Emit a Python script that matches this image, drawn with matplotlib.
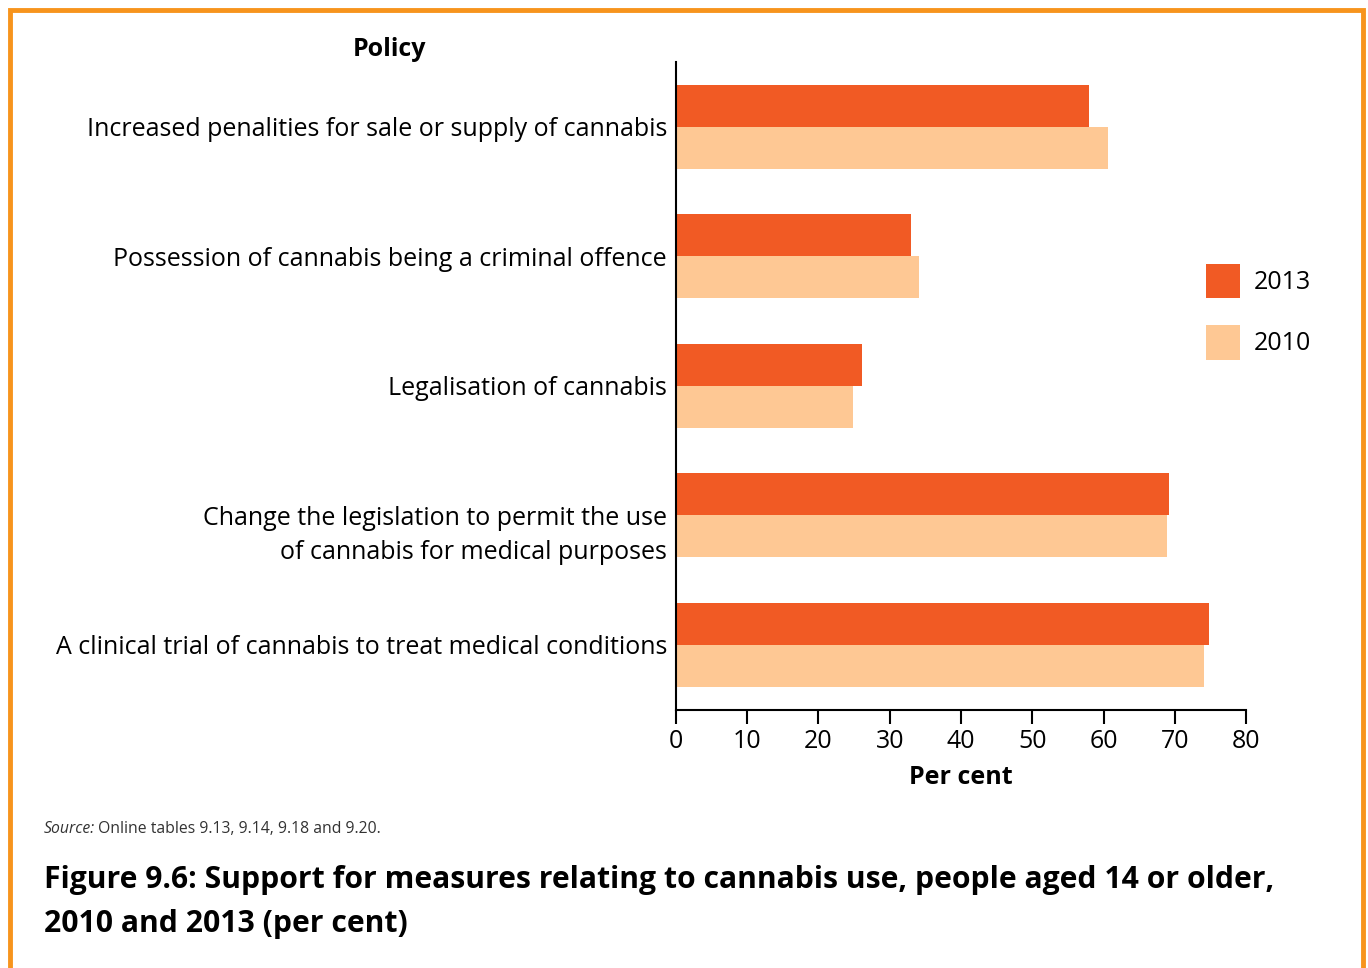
import matplotlib.pyplot as plt
import numpy as np
from matplotlib.patches import Rectangle, Patch

plt.rcParams['font.family'] = ['Open Sans', 'DejaVu Sans']

# Data
policies = [
    'Increased penalities for sale or supply of cannabis',
    'Possession of cannabis being a criminal offence',
    'Legalisation of cannabis',
    'Change the legislation to permit the use\nof cannabis for medical purposes',
    'A clinical trial of cannabis to treat medical conditions',
]
years = ['2013', '2010']
support_2013 = [58.0, 33.0, 26.1, 69.2, 74.8]
support_2010 = [60.6, 34.1, 24.8, 68.9, 74.1]
x_ticks = [0, 10, 20, 30, 40, 50, 60, 70, 80]

c2013 = '#F15A24'
c2010 = '#FEC894'
border = '#F7941D'

fig = plt.figure(figsize=(13.68, 9.68), dpi=100)
ax = fig.add_axes([0.494, 0.267, 0.417, 0.669])

y = np.arange(len(policies))
h = 0.325
ax.barh(y - h / 2, support_2013, height=h, color=c2013, label=years[0])
ax.barh(y + h / 2, support_2010, height=h, color=c2010, label=years[1])

ax.set_ylim(4.5, -0.5)
ax.set_xlim(0, 80)
ax.set_xticks(x_ticks)
ax.set_yticks([])
ax.tick_params(axis='x', length=10, width=1.5, labelsize=18, pad=4, direction='out')
for s in ['top', 'right']:
    ax.spines[s].set_visible(False)
ax.spines['left'].set_linewidth(1.5)
ax.spines['bottom'].set_linewidth(1.5)
ax.spines['bottom'].set_zorder(0)

# category labels: the first line sits at the group centre, as in the original
for i, lab in enumerate(policies):
    lines = lab.split('\n')
    for k, line in enumerate(lines):
        ax.text(-0.0155, i + 0.262 * k, line, transform=ax.get_yaxis_transform(),
                ha='right', va='center_baseline', fontsize=18)

ax.set_xlabel('Per cent', fontsize=18, fontweight='bold', labelpad=8)
fig.text(0.285, 0.949, 'Policy', fontsize=18, fontweight='bold', ha='center', va='center')

handles = [Patch(facecolor=c2013, label=years[0]), Patch(facecolor=c2010, label=years[1])]
fig.legend(handles=handles, loc='center left', bbox_to_anchor=(0.8816, 0.678), frameon=False,
           fontsize=18, handlelength=1.36, handleheight=1.75, labelspacing=1.07, handletextpad=0.55,
           borderpad=0, borderaxespad=0)

fig.text(0.032, 0.1436, 'Source:', fontsize=11.3, style='italic', va='center', color='#333333')
fig.text(0.0715, 0.1436, 'Online tables 9.13, 9.14, 9.18 and 9.20.', fontsize=11.3,
         va='center', color='#333333')

fig.text(0.032, 0.0682, 'Figure 9.6: Support for measures relating to cannabis use, people aged 14 or older,\n'
         '2010 and 2013 (per cent)', fontsize=21.7, fontweight='bold', va='center', linespacing=1.6)

fig.add_artist(Rectangle((0.007, -0.01), 0.989, 1.0, transform=fig.transFigure,
                         fill=False, edgecolor=border, linewidth=3.5))

plt.savefig('out.png', dpi=100)
